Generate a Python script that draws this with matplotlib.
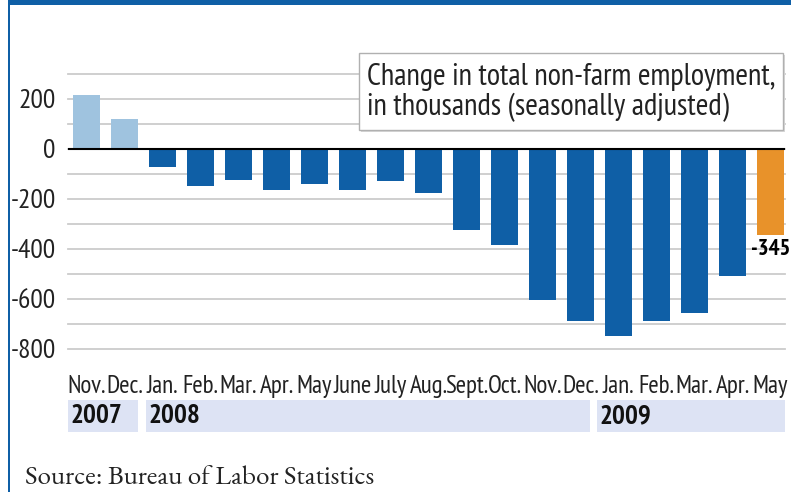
import matplotlib
matplotlib.use("Agg")
import matplotlib.pyplot as plt
from matplotlib.patches import Rectangle
import matplotlib.transforms as mtransforms

months = ["Nov.", "Dec.", "Jan.", "Feb.", "Mar.", "Apr.", "May", "June", "July", "Aug.",
          "Sept.", "Oct.", "Nov.", "Dec.", "Jan.", "Feb.", "Mar.", "Apr.", "May"]
values = [215, 120, -73, -147, -124, -163, -139, -164, -128, -176,
          -324, -383, -604, -688, -748, -688, -657, -509, -345]
years = ["2007", "2008", "2009"]
year_start_idx = [0, 2, 14]
year_end_idx = [1, 13, 18]
yticks = [200, 0, -200, -400, -600, -800]

LIGHT = "#9fc3df"
DARK = "#0f5fa6"
ORANGE = "#e8922a"
BAND = "#dde3f4"
NARROW = ["PT Sans Narrow", "DejaVu Sans"]
SERIF = ["EB Garamond", "Liberation Serif", "DejaVu Serif"]

fig = plt.figure(figsize=(7.91, 4.92), dpi=100)
W, H = 791, 492
ax = fig.add_axes([68 / W, 1 - 349 / H, (785 - 68) / W, (349 - 74) / H])

colors = [LIGHT if v > 0 else DARK for v in values]
colors[-1] = ORANGE
x = list(range(len(values)))
ax.bar(x, values, width=0.71, color=colors, zorder=3)

ax.set_xlim(-0.487, 18.38)
ax.set_ylim(-800, 300)
for yv in range(-800, 301, 100):
    ax.axhline(yv, color="#cccccc", lw=1.3, zorder=1, clip_on=False)
ax.axhline(0, color="black", lw=1.5, zorder=4)

for s in ax.spines.values():
    s.set_visible(False)
ax.set_yticks(yticks)
ax.set_yticklabels([str(t) for t in yticks], family=NARROW, fontsize=20, color="#222222")
ax.tick_params(axis="y", length=0, pad=9)
ax.set_xticks(x)
ax.set_xticklabels(months, family=NARROW, fontsize=18, color="#222222")
ax.tick_params(axis="x", length=0, pad=19)

# value label for last bar
ax.text(x[-1], values[-1] - 14, str(values[-1]), ha="center", va="top",
        family=NARROW, fontsize=16.5, fontweight="bold", color="black", zorder=5)

# year bands
trans = mtransforms.blended_transform_factory(ax.transData, ax.transAxes)
band_y0 = (349 - 432) / 275
band_h = (432 - 400) / 275
left_off = {0: 0.487, 2: 0.43, 14: 0.57}
right_off = {1: 0.355, 13: 0.25, 18: 0.38}
for yr, s, e in zip(years, year_start_idx, year_end_idx):
    left = s - left_off[s]
    right = e + right_off[e]
    ax.add_patch(Rectangle((left, band_y0), right - left, band_h, transform=trans,
                           facecolor=BAND, edgecolor="none", clip_on=False, zorder=0))
    ax.text(left + 0.06, band_y0 + band_h / 2, yr, transform=trans, ha="left", va="center",
            family=NARROW, fontsize=19.5, fontweight="bold", color="#111111")

# title box
bx0, by0, bx1, by1 = 359, 53, 783, 130
fig.patches.append(Rectangle(((bx0 + 2) / W, 1 - (by1 + 2) / H), (bx1 - bx0) / W, (by1 - by0) / H,
                             transform=fig.transFigure, facecolor="#d8d8d8", edgecolor="none", zorder=5))
fig.patches.append(Rectangle((bx0 / W, 1 - by1 / H), (bx1 - bx0) / W, (by1 - by0) / H,
                             transform=fig.transFigure, facecolor="white", edgecolor="#b0b0b0",
                             lw=1, zorder=6))
fig.text(367 / W, 1 - 77 / H, "Change in total non-farm employment,", family=NARROW,
         fontsize=22, color="#222222", va="center", ha="left", zorder=7)
fig.text(367 / W, 1 - 107 / H, "in thousands (seasonally adjusted)", family=NARROW,
         fontsize=22, color="#222222", va="center", ha="left", zorder=7)

# frame decorations
fig.patches.append(Rectangle((8 / W, 0), 2 / W, 1, transform=fig.transFigure,
                             facecolor=DARK, edgecolor="none"))
fig.patches.append(Rectangle((8 / W, 1 - 5 / H), 1 - 8 / W, 5 / H, transform=fig.transFigure,
                             facecolor=DARK, edgecolor="none"))

fig.text(25 / W, 1 - 479 / H, "Source: Bureau of Labor Statistics", family=SERIF,
         fontsize=19.5, color="#222222", va="center", ha="left")

fig.savefig("out.png", dpi=100)
